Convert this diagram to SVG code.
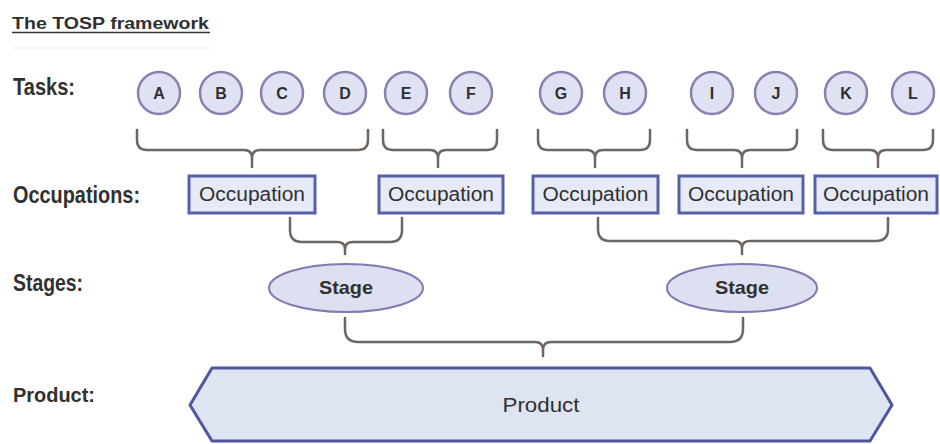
<svg xmlns="http://www.w3.org/2000/svg" width="940" height="444" viewBox="0 0 940 444">
<style>
text{font-family:"Liberation Sans",Arial,sans-serif;fill:#303030}
.lbl{font-weight:bold}
.task circle{fill:#dfe2f2;stroke:#8a7fae;stroke-width:2.5}
.task text{font-size:16px;font-weight:bold;text-anchor:middle}
.occ rect{fill:#e6e9f6;stroke:#5660a8;stroke-width:3}
.occ text{font-size:20px;text-anchor:middle}
.stage ellipse{fill:#dde0f1;stroke:#7f78b2;stroke-width:2}
.stage text{font-size:19px;font-weight:bold;text-anchor:middle}
.brace path{fill:none;stroke:#6e6661;stroke-width:2.5;stroke-linecap:round;stroke-linejoin:round}
</style>
<rect width="940" height="444" fill="#ffffff"/>
<g id="title">
<text class="lbl" x="12" y="29" font-size="17" textLength="197" lengthAdjust="spacingAndGlyphs">The TOSP framework</text>
<line x1="12" y1="32.5" x2="210" y2="32.5" stroke="#333" stroke-width="1.5"/>
<line x1="12" y1="48" x2="210" y2="48" stroke="#ececec" stroke-width="1"/>
</g>
<g id="row-labels">
<text class="lbl" x="13" y="95" font-size="24" textLength="62" lengthAdjust="spacingAndGlyphs">Tasks:</text>
<text class="lbl" x="13" y="203" font-size="24" textLength="127" lengthAdjust="spacingAndGlyphs">Occupations:</text>
<text class="lbl" x="13" y="291" font-size="24" textLength="70" lengthAdjust="spacingAndGlyphs">Stages:</text>
<text class="lbl" x="13" y="402" font-size="21" textLength="82" lengthAdjust="spacingAndGlyphs">Product:</text>
</g>
<g id="task-A" class="task"><circle cx="159" cy="93" r="21"/><text x="159" y="99">A</text></g>
<g id="task-B" class="task"><circle cx="221" cy="93" r="21"/><text x="221" y="99">B</text></g>
<g id="task-C" class="task"><circle cx="282" cy="93" r="21"/><text x="282" y="99">C</text></g>
<g id="task-D" class="task"><circle cx="345" cy="93" r="21"/><text x="345" y="99">D</text></g>
<g id="task-E" class="task"><circle cx="406" cy="93" r="21"/><text x="406" y="99">E</text></g>
<g id="task-F" class="task"><circle cx="471" cy="93" r="21"/><text x="471" y="99">F</text></g>
<g id="task-G" class="task"><circle cx="561" cy="93" r="21"/><text x="561" y="99">G</text></g>
<g id="task-H" class="task"><circle cx="625" cy="93" r="21"/><text x="625" y="99">H</text></g>
<g id="task-I" class="task"><circle cx="712" cy="93" r="21"/><text x="712" y="99">I</text></g>
<g id="task-J" class="task"><circle cx="776" cy="93" r="21"/><text x="776" y="99">J</text></g>
<g id="task-K" class="task"><circle cx="846" cy="93" r="21"/><text x="846" y="99">K</text></g>
<g id="task-L" class="task"><circle cx="913" cy="93" r="21"/><text x="913" y="99">L</text></g>
<g id="occupation-1" class="occ"><rect x="189" y="176" width="126" height="37"/><text x="252" y="201" textLength="106" lengthAdjust="spacingAndGlyphs">Occupation</text></g>
<g id="occupation-2" class="occ"><rect x="379" y="176" width="124" height="37"/><text x="441" y="201" textLength="106" lengthAdjust="spacingAndGlyphs">Occupation</text></g>
<g id="occupation-3" class="occ"><rect x="533" y="176" width="125" height="37"/><text x="595.5" y="201" textLength="106" lengthAdjust="spacingAndGlyphs">Occupation</text></g>
<g id="occupation-4" class="occ"><rect x="679" y="176" width="124" height="37"/><text x="741" y="201" textLength="106" lengthAdjust="spacingAndGlyphs">Occupation</text></g>
<g id="occupation-5" class="occ"><rect x="815" y="176" width="122" height="37"/><text x="876" y="201" textLength="106" lengthAdjust="spacingAndGlyphs">Occupation</text></g>
<g id="stage-1" class="stage"><ellipse cx="346" cy="288" rx="77" ry="24"/><text x="346" y="294" textLength="54" lengthAdjust="spacingAndGlyphs">Stage</text></g>
<g id="stage-2" class="stage"><ellipse cx="742" cy="288" rx="75" ry="24"/><text x="742" y="294" textLength="54" lengthAdjust="spacingAndGlyphs">Stage</text></g>
<g id="product">
<polygon points="212,368 870,368 892,405 870,441 212,441 190,405" fill="#dfe4f3" stroke="#4d569f" stroke-width="3" stroke-linejoin="round"/>
<text x="541" y="412" font-size="20" text-anchor="middle" textLength="77" lengthAdjust="spacingAndGlyphs">Product</text>
</g>
<g id="connectors" class="brace">
<path d="M137,130 V140 Q137,150 147,150 H244 Q252,150 252,158 V167 M252,158 Q252,150 260,150 H358 Q368,150 368,140 V130"/>
<path d="M383,130 V140 Q383,150 393,150 H430 Q438,150 438,158 V167 M438,158 Q438,150 446,150 H487 Q497,150 497,140 V130"/>
<path d="M538,130 V140 Q538,150 548,150 H587 Q595,150 595,158 V167 M595,158 Q595,150 603,150 H640 Q650,150 650,140 V130"/>
<path d="M687,130 V140 Q687,150 697,150 H734 Q742,150 742,158 V167 M742,158 Q742,150 750,150 H787 Q797,150 797,140 V130"/>
<path d="M823,130 V140 Q823,150 833,150 H870 Q878,150 878,158 V167 M878,158 Q878,150 886,150 H923 Q933,150 933,140 V130"/>
<path d="M290,218 V230 Q290,242 302,242 H337 Q345,242 345,249 V254 M345,249 Q345,242 353,242 H390 Q402,242 402,230 V218"/>
<path d="M598,218 V229 Q598,241 610,241 H734 Q742,241 742,248 V254 M742,248 Q742,241 750,241 H876 Q888,241 888,229 V218"/>
<path d="M345,318 V329 Q345,342 358,342 H535 Q543,342 543,350 V356 M543,350 Q543,342 551,342 H730 Q743,342 743,329 V318"/>
</g>
</svg>
